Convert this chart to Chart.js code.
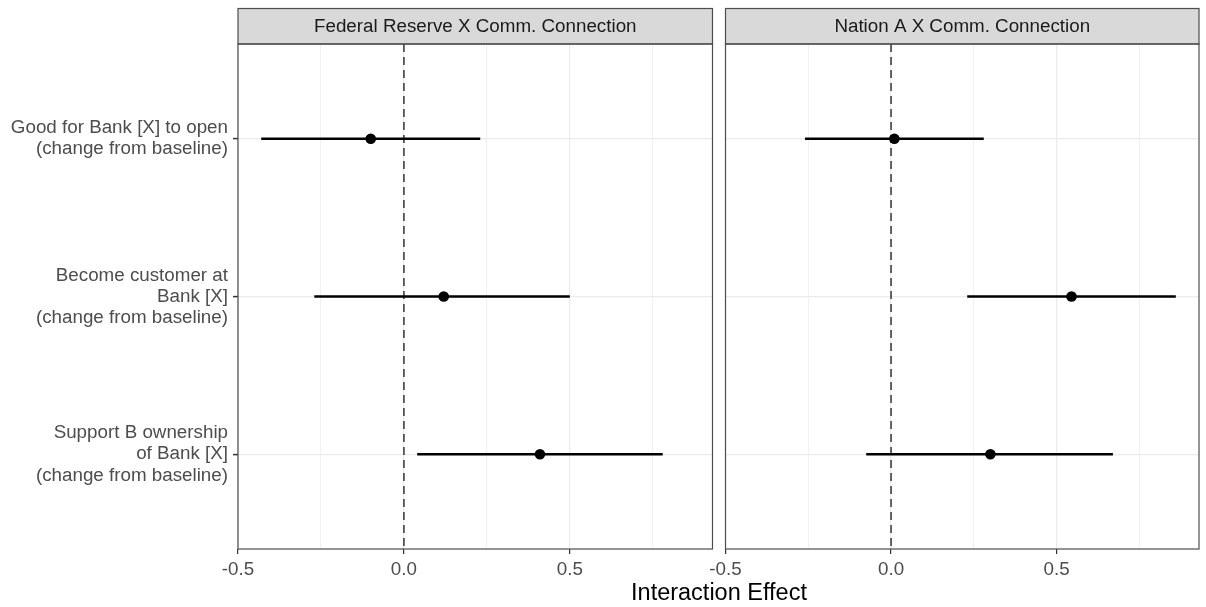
<!DOCTYPE html>
<html>
<head>
<meta charset="utf-8">
<script src="https://cdn.jsdelivr.net/npm/chart.js@4/dist/chart.umd.min.js"></script>
<style>
html,body{margin:0;padding:0;background:#fff;}
#wrap{position:relative;width:1206px;height:607px;overflow:hidden;font-family:"Liberation Sans",Arial,sans-serif;background:#fff;}
#c1{position:absolute;left:0;top:0;}
#c2{position:absolute;left:690px;top:0;}
#xtitle{position:absolute;left:519px;width:400px;top:581px;text-align:center;font-size:23.5px;line-height:23.5px;color:#000;}
</style>
</head>
<body>
<div id="wrap">
  <canvas id="c1" width="718" height="607"></canvas>
  <canvas id="c2" width="516" height="607"></canvas>
  <div id="xtitle">Interaction Effect</div>
</div>
<script>
// ---- data ----
const categories = [
  ["Good for Bank [X] to open", "(change from baseline)"],
  ["Become customer at", "Bank [X]", "(change from baseline)"],
  ["Support B ownership", "of Bank [X]", "(change from baseline)"]
];
const panelTitles = ["Federal Reserve X Comm. Connection", "Nation A X Comm. Connection"];
const fedEstimate = [-0.10, 0.12, 0.41];
const fedLower    = [-0.43, -0.27, 0.04];
const fedUpper    = [0.23, 0.50, 0.78];
const nationEstimate = [0.01, 0.545, 0.30];
const nationLower    = [-0.26, 0.23, -0.075];
const nationUpper    = [0.28, 0.86, 0.67];
const xMajorTicks = [-0.5, 0.0, 0.5];
const xMinorTicks = [-0.25, 0.25, 0.75];
const xLimits = [-0.5, 0.93];
const referenceValue = 0;

Chart.defaults.font.family = "'Liberation Sans', Arial, sans-serif";

const isMajor = v => xMajorTicks.some(t => Math.abs(t - v) < 1e-9);

const panelDecor = {
  id: 'panelDecor',
  beforeDatasetsDraw(chart, args, opts) {
    const {ctx, chartArea: a, scales: {x}} = chart;
    const px = x.getPixelForValue(referenceValue);
    ctx.save();
    ctx.beginPath();
    ctx.rect(a.left, a.top, a.right - a.left, a.bottom - a.top);
    ctx.clip();
    ctx.strokeStyle = '#333';
    ctx.lineWidth = 1.5;
    ctx.setLineDash([8, 5]);
    ctx.beginPath();
    ctx.moveTo(px, a.top);
    ctx.lineTo(px, a.bottom);
    ctx.stroke();
    ctx.restore();
  },
  afterDraw(chart, args, opts) {
    const {ctx, chartArea: a} = chart;
    ctx.save();
    const stripTop = 8.5;
    ctx.fillStyle = '#d9d9d9';
    ctx.fillRect(a.left, stripTop, a.right - a.left, a.top - stripTop);
    ctx.strokeStyle = '#4d4d4d';
    ctx.lineWidth = 1.2;
    ctx.strokeRect(a.left, stripTop, a.right - a.left, a.top - stripTop);
    ctx.strokeRect(a.left, a.top, a.right - a.left, a.bottom - a.top);
    ctx.fillStyle = '#1a1a1a';
    ctx.font = "18.8px 'Liberation Sans', Arial, sans-serif";
    ctx.textAlign = 'center';
    ctx.textBaseline = 'middle';
    ctx.fillText(opts.title, (a.left + a.right) / 2, (stripTop + a.top) / 2 + 1);
    ctx.restore();
  }
};

function makePanel(canvasId, title, est, lo, hi, isLeft, yWidth, padRight) {
  const datasets = [];
  for (let i = 0; i < categories.length; i++) {
    datasets.push({
      type: 'line',
      data: [{x: lo[i], y: i + 1}, {x: hi[i], y: i + 1}],
      borderColor: '#000', borderWidth: 2.4,
      pointRadius: 0, pointHoverRadius: 0,
      showLine: true, fill: false, order: 2
    });
  }
  datasets.push({
    type: 'scatter',
    data: est.map((v, i) => ({x: v, y: i + 1})),
    pointRadius: 5.3, pointHoverRadius: 5.3,
    pointBackgroundColor: '#000', pointBorderColor: '#000', pointBorderWidth: 0,
    showLine: false, order: 1
  });

  return new Chart(document.getElementById(canvasId), {
    type: 'scatter',
    data: {datasets},
    options: {
      responsive: false,
      animation: false,
      layout: {padding: {top: 44, right: padRight, left: 0, bottom: 0}},
      plugins: {
        legend: {display: false},
        tooltip: {enabled: false},
        panelDecor: {title}
      },
      scales: {
        x: {
          type: 'linear',
          min: xLimits[0], max: xLimits[1],
          afterBuildTicks: s => {
            s.ticks = [...xMajorTicks, ...xMinorTicks].sort((a, b) => a - b).map(v => ({value: v}));
          },
          ticks: {
            autoSkip: false, maxRotation: 0, minRotation: 0, padding: 5,
            color: '#4d4d4d', font: {size: 18.8},
            callback: v => isMajor(v) ? Number(v).toFixed(1) : ''
          },
          grid: {
            color: '#ebebeb',
            lineWidth: ctx => (ctx.tick && isMajor(ctx.tick.value)) ? 1.2 : 0.7,
            drawTicks: true, tickLength: 5, tickWidth: 1.2,
            tickColor: ctx => (ctx.tick && isMajor(ctx.tick.value)) ? '#333' : 'rgba(0,0,0,0)'
          },
          border: {display: false},
          afterFit: s => { s.height = 58; }
        },
        y: {
          type: 'linear',
          reverse: true,
          min: 0.4, max: 3.6,
          afterBuildTicks: s => { s.ticks = categories.map((c, i) => ({value: i + 1})); },
          ticks: {
            display: isLeft, autoSkip: false, padding: 5,
            color: '#4d4d4d', font: {size: 18.8, lineHeight: 1.12},
            callback: v => categories[Math.round(v) - 1]
          },
          grid: {
            color: '#ebebeb', lineWidth: 1.2,
            drawTicks: isLeft, tickLength: 5, tickWidth: 1.5, tickColor: '#333'
          },
          border: {display: false},
          afterFit: s => { s.width = yWidth; }
        }
      }
    },
    plugins: [panelDecor]
  });
}

makePanel('c1', panelTitles[0], fedEstimate, fedLower, fedUpper, true, 238, 5.5);
makePanel('c2', panelTitles[1], nationEstimate, nationLower, nationUpper, false, 35.5, 7);
</script>
</body>
</html>
